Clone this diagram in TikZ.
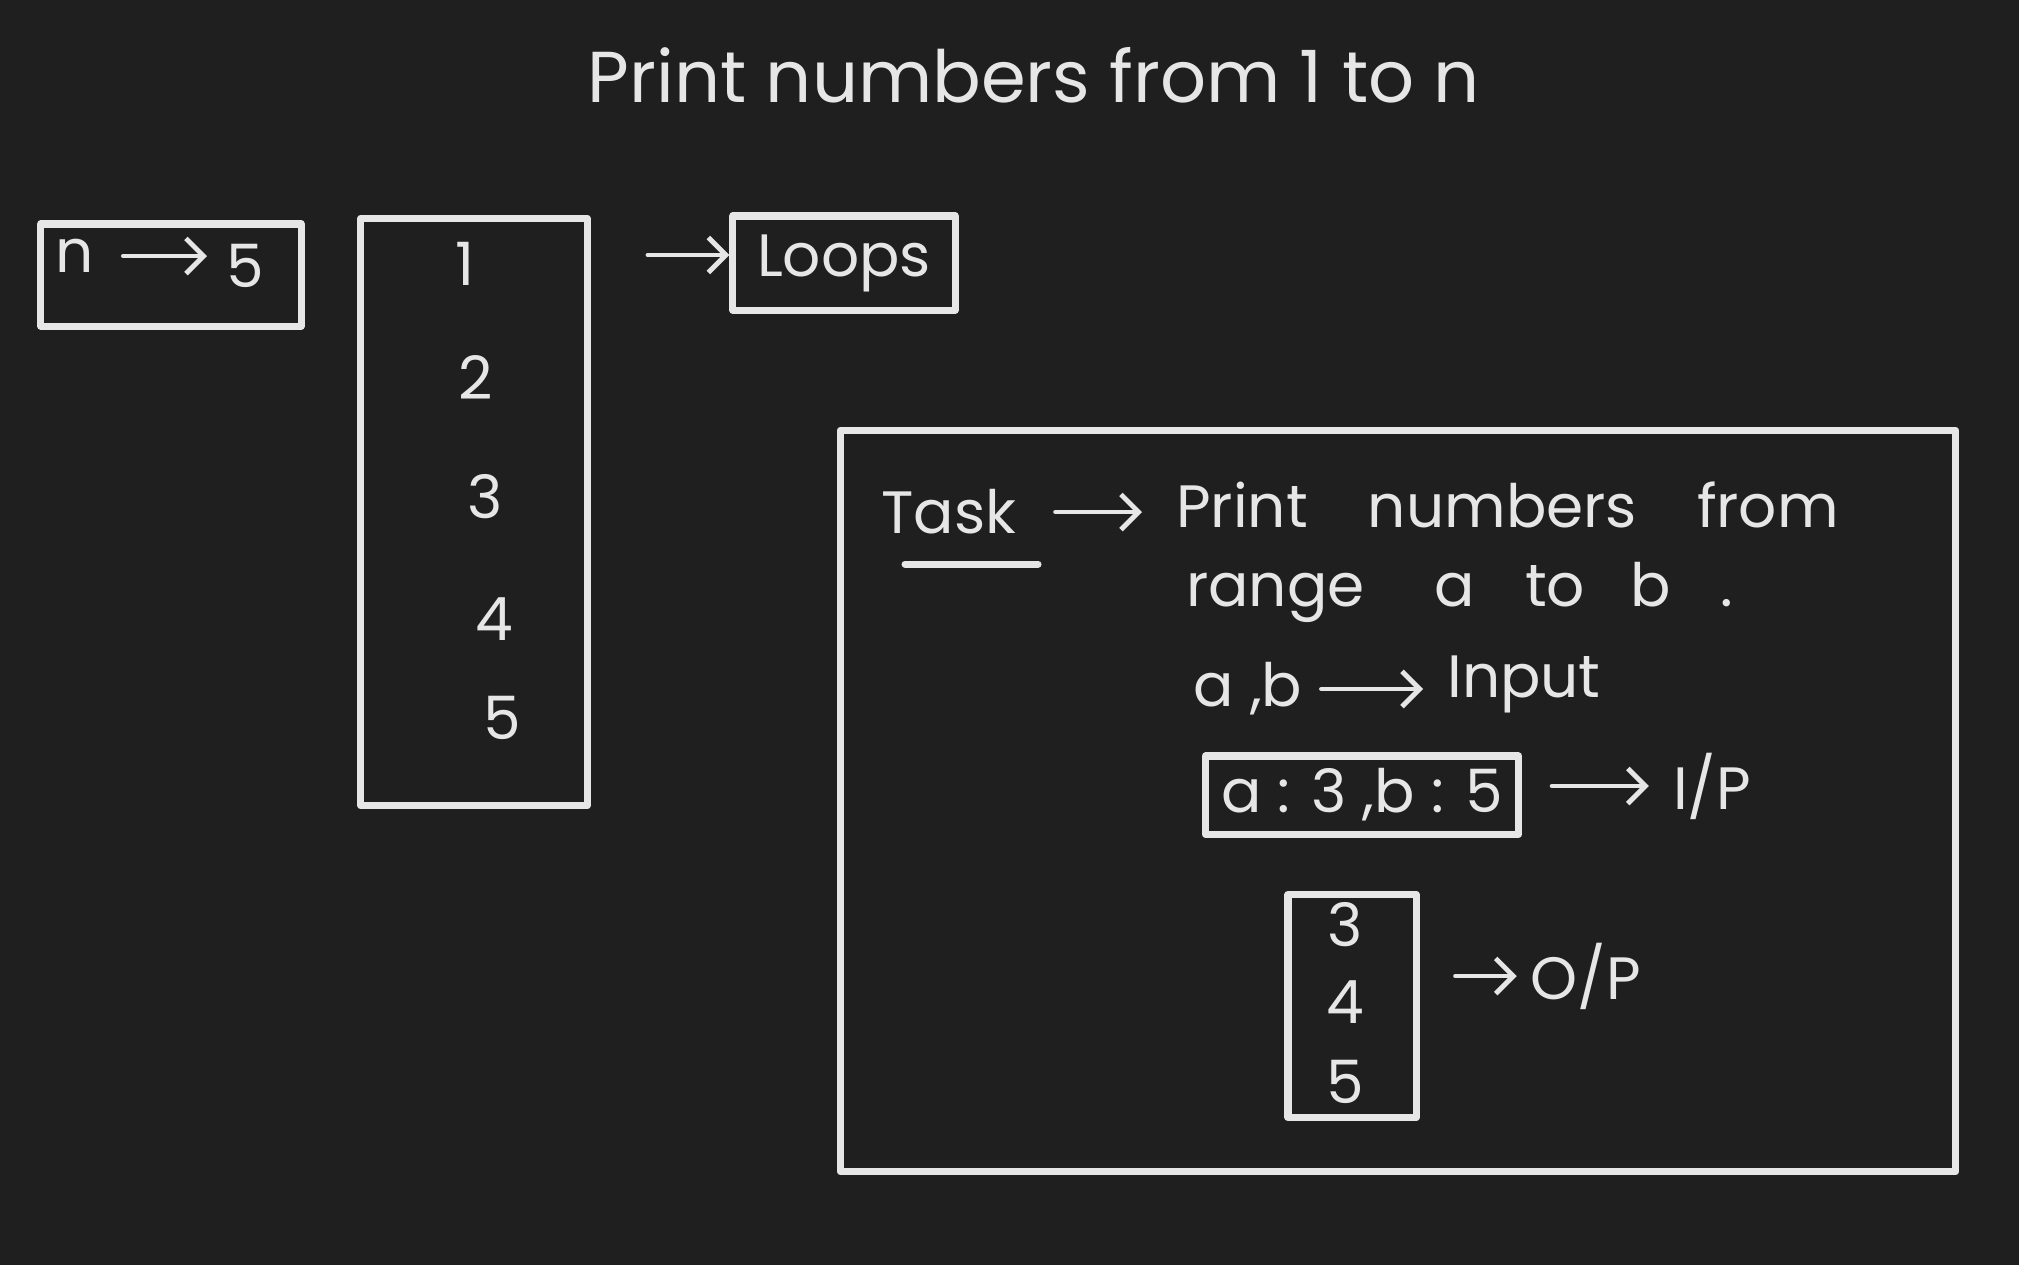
\documentclass[tikz,border=0pt]{standalone}
\usepackage{fontspec}
\setmainfont{Poppins}
\usetikzlibrary{arrows.meta,positioning}
\definecolor{BoardBg}{HTML}{1F1F1F}
\definecolor{Chalk}{HTML}{E6E6E6}

\tikzset{
  chalk/.style={draw=Chalk, line width=2pt, line cap=round, line join=round},
  box/.style={chalk, rectangle, inner sep=0pt, text=Chalk},
  arr/.style={draw=Chalk, line width=1.4pt, line cap=round,
    -{Straight Barb[length=5pt,width=10pt,line width=1.4pt]}},
  txt/.style={text=Chalk, inner sep=1pt},
  big/.style={font=\fontsize{17}{20}\selectfont},
}

\begin{document}
\begin{tikzpicture}[x=0.01cm,y=-0.01cm]
\path[use as bounding box, fill=BoardBg] (0,0) rectangle (2019,1265);

% title
\node[txt, font=\fontsize{20.5}{24}\selectfont] (title) at (1034,75) {Print numbers from 1 to n};

% n -> 5
\node[box, minimum width=2.60cm, minimum height=1.02cm] (nbox) at (171,275) {};
\node[txt, big] (n) at (75,256) {n};
\node[txt, big] (five) at (245,266) {5};
\draw[arr, shorten <=0.25cm, shorten >=0.15cm] (n.east) -- (n.east -| five.west);

% numbers 1..5
\node[box, minimum width=2.26cm, minimum height=5.87cm] (col) at (474,512) {};
\foreach \v/\x/\y in {1/465/264, 2/476/377, 3/485/497, 4/494/619, 5/502/718}
  \node[txt, big] (c\v) at (\x,\y) {\v};

% loops
\node[box, big, minimum width=2.22cm, minimum height=0.94cm] (loops) at (844,263) {Loops};
\coordinate (loopin) at (648,255);
\draw[arr] (loopin) -- (loopin -| loops.west);

% task
\node[box, minimum width=11.15cm, minimum height=7.41cm] (taskbox) at (1398,801) {};
\node[txt, big] (task) at (949,512) {Task};
\draw[chalk] (905,564) -- (1038,564);
\node[txt, big, anchor=west] (desc1) at (1172,505)
  {Print\hspace{0.6cm}numbers\hspace{0.6cm}from};
\node[txt, big, anchor=west] (desc2) at (1182,592)
  {range\hspace{0.7cm}a\hspace{0.5cm}to\hspace{0.45cm}b\hspace{0.5cm}.};
\draw[arr, shorten <=0.35cm, shorten >=0.3cm] (task.east) -- (task.east -| desc1.west);

% input
\node[txt, big] (ab) at (1248,689) {a ,b};
\node[txt, big] (input) at (1524,684) {Input};
\draw[arr, shorten <=0.15cm, shorten >=0.2cm] (ab.east) -- (ab.east -| input.west);

\node[box, big, minimum width=3.13cm, minimum height=0.78cm] (inbox) at (1362,795) {a : 3 ,b : 5};
\node[txt, big] (ip) at (1712,786) {I/P};
\draw[arr, shorten <=0.3cm, shorten >=0.2cm] (ip.west -| inbox.east) -- (ip.west);

% output
\node[box, minimum width=1.28cm, minimum height=2.23cm] (outbox) at (1352,1006) {};
\foreach \v/\y in {3/925, 4/1002, 5/1082}
  \node[txt, big] (o\v) at (1345,\y) {\v};
\node[txt, big] (op) at (1586,976) {O/P};
\draw[arr, shorten <=0.36cm, shorten >=0.1cm] (op.west -| outbox.east) -- (op.west);
\end{tikzpicture}
\end{document}
